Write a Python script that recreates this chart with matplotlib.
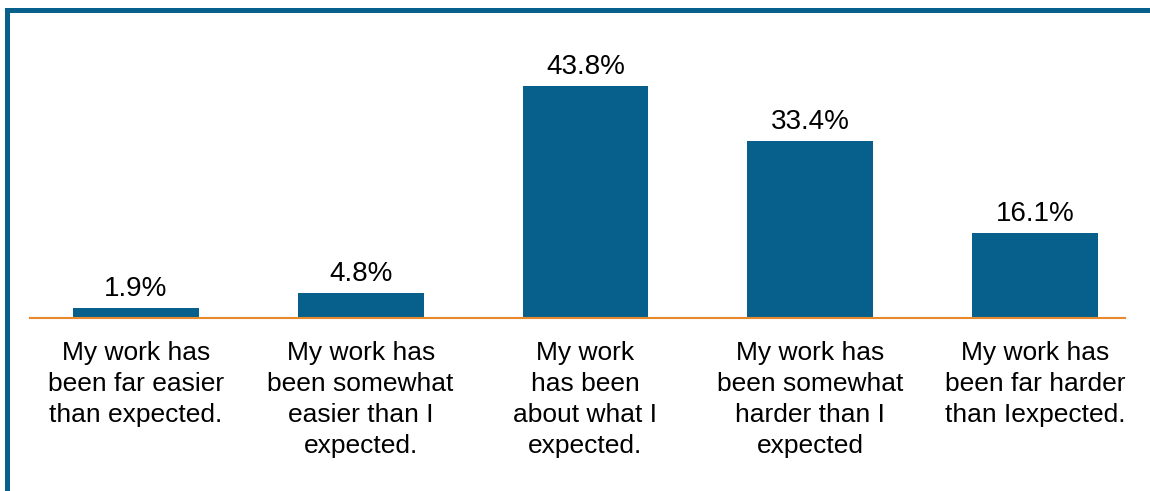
import matplotlib.pyplot as plt
from matplotlib.patches import Rectangle

categories = [
    "My work has\nbeen far easier\nthan expected.",
    "My work has\nbeen somewhat\neasier than I\nexpected.",
    "My work\nhas been\nabout what I\nexpected.",
    "My work has\nbeen somewhat\nharder than I\nexpected",
    "My work has\nbeen far harder\nthan Iexpected.",
]
values = [1.9, 4.8, 43.8, 33.4, 16.1]

BLUE = "#075f8c"
ORANGE = "#e8892c"

plt.rcParams['font.family'] = ['Liberation Sans', 'DejaVu Sans']

W, H = 1150, 491
fig = plt.figure(figsize=(W / 100, H / 100), dpi=100)

# frame: top and left blue border
fig.patches.append(Rectangle((5 / W, 1 - 13 / H), 1, 5 / H, transform=fig.transFigure,
                             facecolor=BLUE, edgecolor='none'))
fig.patches.append(Rectangle((5 / W, 0), 5 / W, 1 - 8 / H, transform=fig.transFigure,
                             facecolor=BLUE, edgecolor='none'))

ax = fig.add_axes([30 / W, (H - 318) / H, (1125 - 30) / W, 265 / H])
x = list(range(len(values)))
ax.bar(x, values, width=0.56, color=BLUE, zorder=2)
ax.set_xlim(-0.471, 4.4)
ax.set_ylim(0, 50)

for xi, v in zip(x, values):
    ax.annotate(f"{v}%", (xi, v), xytext=(0, 8.5), textcoords='offset points',
                ha='center', va='baseline', fontsize=20)

for xi, lab in zip(x, categories):
    ax.annotate(lab, (xi, 0), xytext=(0, -16.5), textcoords='offset points',
                ha='center', va='top', fontsize=19, linespacing=1.37)

for s in ['top', 'right', 'left']:
    ax.spines[s].set_visible(False)
ax.spines['bottom'].set_color(ORANGE)
ax.spines['bottom'].set_linewidth(1.5)
ax.set_xticks([])
ax.set_yticks([])
ax.patch.set_alpha(0)

fig.savefig("out.png", dpi=100)
